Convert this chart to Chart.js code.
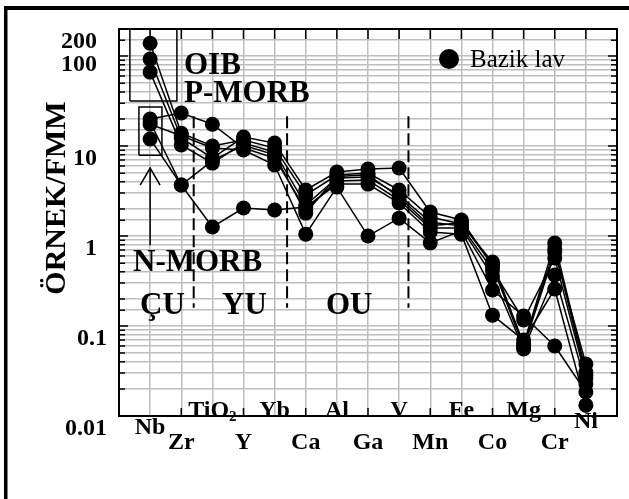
<!DOCTYPE html>
<html>
<head>
<meta charset="utf-8">
<script src="https://cdn.jsdelivr.net/npm/chart.js@4.4.0/dist/chart.umd.min.js"></script>
<style>
  html, body { margin: 0; padding: 0; background: #fff; }
</style>
</head>
<body>
<canvas id="myChart" width="629" height="499"></canvas>
<script>
// element order on the spider diagram
const elements = ["Nb", "Zr", "TiO2", "Y", "Yb", "Ca", "Al", "Ga", "V", "Mn", "Fe", "Co", "Mg", "Cr", "Ni"];

// ÖRNEK/FMM values, one array per basic lava sample
const sample1 = [139, 13.9, 10.0, 11.7, 9.5, 2.85, 4.76, 5.01, 3.25, 1.63, 1.36, 0.514, 0.063, 0.836, 0.0308];
const sample2 = [92.6, 12.3, 7.36, 12.6, 10.8, 3.25, 5.14, 5.55, 5.7, 1.85, 1.51, 0.464, 0.0584, 0.664, 0.0378];
const sample3 = [66.4, 10.3, 6.47, 10.8, 8.58, 2.21, 4.41, 4.53, 2.85, 1.43, 1.29, 0.419, 0.117, 0.57, 0.0264];
const sample4 = [20.0, 23.3, 17.5, 9.5, 7.36, 1.95, 4.08, 4.19, 2.51, 1.23, 1.23, 0.359, 0.0555, 0.369, 0.0227];
const sample5 = [17.5, 13.0, 9.5, 9.03, 6.15, 1.05, 3.5, 1.0, 1.58, 0.84, 1.14, 0.251, 0.129, 0.06, 0.0185];
const sample6 = [12.0, 3.69, 1.26, 2.05, 1.95, 2.1, 3.78, 3.78, 2.33, 1.11, 1.05, 0.132, 0.0699, 0.258, 0.0132];
const sample7 = [18.5, 3.69, 6.9, 10.2, 8.0, 1.8, 4.6, 4.8, 2.7, 1.3, 1.4, 0.48, 0.062, 0.72, 0.0285];
const samples = [sample1, sample2, sample3, sample4, sample5, sample6, sample7];

// y axis: labelled ticks
const yLabels = [0.01, 0.1, 1, 10, 100, 200];
const yLabelText = ["0.01", "0.1", "1", "10", "100", "200"];

// field dividers (ÇU | YU | OU) and the OIB / N-MORB boxes
const dividerX = [2.4, 5.4, 9.3];
const dividerY = [21.5, 0.16];
const oibBox = { x: [0.35, 1.86], y: [31.6, 200] };
const nmorbBox = { x: [0.64, 1.38], y: [7.9, 27.1] };
const arrowLine = { x: 1, y: [0.79, 5.7], wingY: 3.69, wingDx: 0.32 };

const serif = "'Liberation Serif', 'Times New Roman', serif";

function boxPoints(b) {
  return [
    { x: b.x[0], y: b.y[0] }, { x: b.x[1], y: b.y[0] },
    { x: b.x[1], y: b.y[1] }, { x: b.x[0], y: b.y[1] },
    { x: b.x[0], y: b.y[0] }
  ];
}

const datasets = samples.map(s => ({
  label: "Bazik lav",
  data: s.map((v, i) => ({ x: i + 1, y: v })),
  borderColor: "#000",
  backgroundColor: "#000",
  borderWidth: 1.5,
  pointRadius: 7.5,
  pointHoverRadius: 7.5,
  pointBorderWidth: 0
}));

const guide = { borderColor: "#000", borderWidth: 1.5, pointRadius: 0, fill: false };
dividerX.forEach(dx => {
  datasets.push(Object.assign({}, guide, {
    data: [{ x: dx, y: dividerY[0] }, { x: dx, y: dividerY[1] }],
    borderWidth: 2, borderDash: [12, 5]
  }));
});
datasets.push(Object.assign({}, guide, { data: boxPoints(oibBox) }));
datasets.push(Object.assign({}, guide, { data: boxPoints(nmorbBox) }));
datasets.push(Object.assign({}, guide, {
  data: [{ x: arrowLine.x, y: arrowLine.y[0] }, { x: arrowLine.x, y: arrowLine.y[1] }]
}));
datasets.push(Object.assign({}, guide, {
  data: [
    { x: arrowLine.x - arrowLine.wingDx, y: arrowLine.wingY },
    { x: arrowLine.x, y: arrowLine.y[1] },
    { x: arrowLine.x + arrowLine.wingDx, y: arrowLine.wingY }
  ]
}));

const decor = {
  id: "decor",
  beforeDraw(chart) {
    const ctx = chart.ctx;
    ctx.save();
    ctx.fillStyle = "#000";
    ctx.fillRect(4, 6, chart.width, 4);
    ctx.fillRect(4, 6, 3.5, chart.height);
    ctx.restore();
  },
  beforeDatasetsDraw(chart) {
    const { ctx, chartArea: a, scales: { x, y } } = chart;
    ctx.save();
    ctx.strokeStyle = "#000";
    ctx.lineWidth = 2;
    ctx.strokeRect(a.left, a.top, a.right - a.left, a.bottom - a.top);
    ctx.lineWidth = 1.5;
    ctx.beginPath();
    y.ticks.forEach(t => {
      const py = y.getPixelForValue(t.value);
      const len = t.major ? 9 : 6;
      ctx.moveTo(a.left, py); ctx.lineTo(a.left + len, py);
      ctx.moveTo(a.right, py); ctx.lineTo(a.right - len, py);
    });
    elements.forEach((e, i) => {
      const px = x.getPixelForValue(i + 1);
      ctx.moveTo(px, a.top); ctx.lineTo(px, a.top + 10);
      if (i % 2 === 1) { ctx.moveTo(px, a.bottom); ctx.lineTo(px, a.bottom - 8); }
    });
    ctx.stroke();
    ctx.restore();
  },
  afterDraw(chart) {
    const { ctx, chartArea: a, scales: { x, y } } = chart;
    ctx.save();
    ctx.fillStyle = "#000";
    ctx.textBaseline = "middle";

    // y tick labels (decimals sit a little further right, as in the original)
    ctx.font = "bold 24px " + serif;
    ctx.textAlign = "right";
    yLabels.forEach((v, i) => {
      const py = y.getPixelForValue(v) + (v === 100 ? 9 : 13);
      const rx = v < 1 ? a.left - 12 : a.left - 22;
      ctx.fillText(yLabelText[i], rx, py);
    });

    // element names, staggered in two rows
    elements.forEach((e, i) => {
      const px = x.getPixelForValue(i + 1);
      let py;
      if (i === 0) py = a.bottom + 12;
      else if (i === elements.length - 1) py = a.bottom + 6;
      else if (i % 2 === 1) py = a.bottom + 27;
      else py = a.bottom - 5;
      ctx.font = "bold 24px " + serif;
      if (e === "TiO2") {
        const w1 = ctx.measureText("TiO").width;
        ctx.font = "bold 15px " + serif;
        const w2 = ctx.measureText("2").width;
        const sx = px - (w1 + w2) / 2;
        ctx.textAlign = "left";
        ctx.font = "bold 24px " + serif;
        ctx.fillText("TiO", sx, py);
        ctx.font = "bold 15px " + serif;
        ctx.fillText("2", sx + w1, py + 6);
      } else {
        ctx.textAlign = "center";
        ctx.fillText(e, px, py);
      }
    });

    // field labels
    ctx.textAlign = "left";
    ctx.font = "bold 31px " + serif;
    ctx.fillText("OIB", 184, 66);
    ctx.fillText("P-MORB", 184, 94);
    ctx.fillText("N-MORB", 133, 263);
    ctx.fillText("ÇU", 140, 306);
    ctx.fillText("YU", 222, 306);
    ctx.fillText("OU", 326, 306);

    // legend
    ctx.beginPath();
    ctx.arc(449, 59, 10, 0, Math.PI * 2);
    ctx.fill();
    ctx.font = "25px " + serif;
    ctx.fillText("Bazik lav", 470, 60);

    // y title
    ctx.translate(57, 198);
    ctx.rotate(-Math.PI / 2);
    ctx.textAlign = "center";
    ctx.font = "bold 30px " + serif;
    ctx.fillText("ÖRNEK/FMM", 0, 0);
    ctx.restore();
  }
};

new Chart(document.getElementById("myChart"), {
  type: "line",
  data: { datasets: datasets },
  plugins: [decor],
  options: {
    responsive: false,
    animation: false,
    layout: { padding: { left: 0, top: 29, right: 12, bottom: 0 } },
    plugins: { legend: { display: false }, tooltip: { enabled: false } },
    scales: {
      x: {
        type: "linear",
        min: 0,
        max: 16,
        ticks: { display: false, stepSize: 1 },
        grid: { color: "#bebebe", lineWidth: 1.5, drawTicks: false },
        border: { display: false },
        afterFit(s) { s.height = 83; s.paddingLeft = 0; s.paddingRight = 0; }
      },
      y: {
        type: "logarithmic",
        min: 0.01,
        max: 200,
        ticks: { display: false, autoSkip: false },
        grid: { color: "#bebebe", lineWidth: 1.5, drawTicks: false },
        border: { display: false },
        afterFit(s) { s.width = 119; s.paddingTop = 0; s.paddingBottom = 0; }
      }
    }
  }
});
</script>
</body>
</html>
